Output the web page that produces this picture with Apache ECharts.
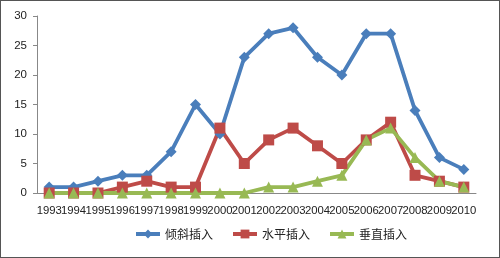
<!DOCTYPE html>
<html><head><meta charset="utf-8">
<script src="https://cdn.jsdelivr.net/npm/echarts@6/dist/echarts.min.js"></script>
<style>html,body{margin:0;padding:0;background:#fff}#c{width:500px;height:258px;box-sizing:border-box;border:1px solid #555;}</style>
</head><body><div id="c"></div>
<script>
const categories = ['1993','1994','1995','1996','1997','1998','1999','2000','2001','2002','2003','2004','2005','2006','2007','2008','2009','2010'];
const seriesNames = ['倾斜插入','水平插入','垂直插入'];
const tilted = [1,1,2,3,3,7,15,10,23,27,28,23,20,27,27,14,6,4];
const horizontal = [0,0,0,1,2,1,1,11,5,9,11,8,5,9,12,3,2,1];
const vertical = [0,0,0,0,0,0,0,0,0,1,1,2,3,9,11,6,2,1];
const yTicks = {min:0,max:30,interval:5};
const chart = echarts.init(document.getElementById('c'));
const colors = ['#4a7ebb','#be4b48','#98b954'];
const symbols = ['diamond','rect','triangle'];
const data = [tilted,horizontal,vertical];
chart.setOption({
  animation:false,
  textStyle:{fontFamily:'Liberation Sans'},
  grid:{left:36,right:23,top:15,bottom:64},
  legend:{top:222,left:128,itemWidth:24,itemHeight:11,itemGap:18,
    lineStyle:{width:4},
    textStyle:{fontSize:12,color:'#222',fontFamily:'Noto Sans CJK SC'},
    data:seriesNames},
  xAxis:{type:'category',data:categories,boundaryGap:true,
    axisLine:{lineStyle:{color:'#888'}},axisTick:{show:false},
    axisLabel:{fontSize:11.3,color:'#222',interval:0,margin:12}},
  yAxis:{type:'value',min:yTicks.min,max:yTicks.max,interval:yTicks.interval,
    axisLine:{show:true,lineStyle:{color:'#888'}},axisTick:{show:true,length:4,lineStyle:{color:'#888'}},
    splitLine:{show:false},axisLabel:{fontSize:11.5,color:'#222',margin:10}},
  series:data.map((d,i)=>({name:seriesNames[i],type:'line',data:d,symbol:symbols[i],symbolSize:11,
    lineStyle:{width:3.8,color:colors[i]},itemStyle:{color:colors[i]}}))
});
</script></body></html>
